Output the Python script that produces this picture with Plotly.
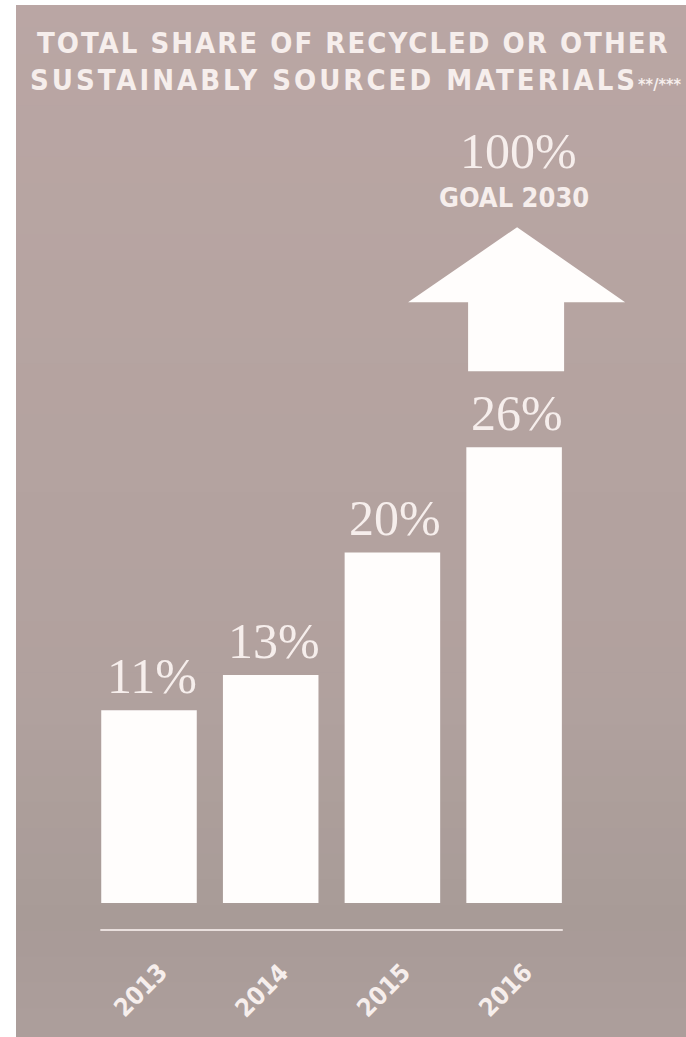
import plotly.graph_objects as go

# ---- data ----
years = ["2013", "2014", "2015", "2016"]
shares = [11, 13, 20, 26]
share_labels = ["11%", "13%", "20%", "26%"]
goal_label = "100%"
goal_text = "GOAL 2030"
title_line1 = "TOTAL SHARE OF RECYCLED OR OTHER"
title_line2 = "SUSTAINABLY SOURCED MATERIALS"
title_marks = "**/***"

# ---- geometry / style ----
W, H = 686, 1037
px_per_cat = 121.7
cat0_px = 149.0
px_per_unit = 17.53
base_px = 903.0
x0r = -cat0_px / px_per_cat
x1r = x0r + W / px_per_cat
y0r = -(H - base_px) / px_per_unit
y1r = y0r + H / px_per_unit

SANS = "DejaVu Sans Condensed, DejaVu Sans, sans-serif"
SERIF = "Liberation Serif, Times New Roman, serif"
TXT = "#f6eeec"

fig = go.Figure()

fig.add_trace(go.Bar(
    x=list(range(len(years))), y=shares, width=0.785,
    marker=dict(color="#fffdfc", line=dict(width=0)),
    hoverinfo="skip", showlegend=False,
))

shapes = []
# background panel with soft vertical gradient
stops = [(5, (186, 166, 164)), (300, (182, 164, 161)), (700, (177, 161, 158)),
         (930, (168, 155, 151)), (1037, (172, 158, 155))]
nb = 40
top, bot = 5, H
for i in range(nb):
    ya = top + (bot - top) * i / nb
    yb = top + (bot - top) * (i + 1) / nb
    ym = (ya + yb) / 2
    for (p0, c0), (p1, c1) in zip(stops[:-1], stops[1:]):
        if p0 <= ym <= p1:
            t = (ym - p0) / (p1 - p0)
            c = tuple(round(a + (b - a) * t) for a, b in zip(c0, c1))
            break
    y_top = ya if i == 0 else ya - 3
    shapes.append(dict(type="rect", xref="paper", yref="paper",
                       x0=16 / W, x1=1, y0=1 - yb / H, y1=1 - y_top / H,
                       fillcolor=f"rgb{c}", line=dict(width=0), layer="below"))

# baseline rule under the bars
shapes.append(dict(type="line", xref="x", yref="y", ysizemode="pixel", yanchor=0,
                   x0=-0.40, x1=len(years) - 1 + 0.40, y0=-27, y1=-27,
                   line=dict(color="#e9dfdd", width=2)))

# upward arrow above the last bar (pixel offsets relative to last bar top)
last = len(years) - 1
arrow = [(-46, 76), (50, 76), (50, 145), (111, 145), (3, 220), (-106, 145), (-46, 145)]
path = "M " + " L ".join(f"{x},{y}" for x, y in arrow) + " Z"
shapes.append(dict(type="path", xref="x", yref="y", xsizemode="pixel", ysizemode="pixel",
                   xanchor=last, yanchor=shares[-1], path=path,
                   fillcolor="#fffdfc", line=dict(width=0)))

annotations = []
for i, (v, lab) in enumerate(zip(shares, share_labels)):
    annotations.append(dict(x=i, y=v, xref="x", yref="y", text=lab, showarrow=False,
                            xanchor="center", yanchor="bottom", yshift=4, xshift=3,
                            font=dict(family=SERIF, size=50, color=TXT)))
for i, yr in enumerate(years):
    annotations.append(dict(x=i, y=0, xref="x", yref="y", text=f"<b>{yr}</b>", showarrow=False,
                            xanchor="center", yanchor="middle", yshift=-87, xshift=-9,
                            textangle=-45, font=dict(family=SANS, size=25, color=TXT)))
annotations.append(dict(x=last, y=shares[-1], xref="x", yref="y", text=goal_label, showarrow=False,
                        xanchor="center", yanchor="middle", yshift=447 - 151, xshift=4,
                        font=dict(family=SERIF, size=50, color=TXT)))
annotations.append(dict(x=last, y=shares[-1], xref="x", yref="y", text=f"<b>{goal_text}</b>",
                        showarrow=False, xanchor="center", yanchor="middle", yshift=447 - 197,
                        font=dict(family=SANS, size=27, color=TXT)))
annotations.append(dict(x=35 / W, y=1 - 43 / H, xref="paper", yref="paper", showarrow=False,
                        text=f'<span style="letter-spacing:2px"><b>{title_line1}</b></span>',
                        xanchor="left", yanchor="middle",
                        font=dict(family=SANS, size=29, color=TXT)))
annotations.append(dict(x=28 / W, y=1 - 80 / H, xref="paper", yref="paper", showarrow=False,
                        text=(f'<span style="letter-spacing:3px"><b>{title_line2}</b></span>'
                              f'<span style="font-size:16px"><b>{title_marks}</b></span>'),
                        xanchor="left", yanchor="middle",
                        font=dict(family=SANS, size=29, color=TXT)))

fig.update_layout(
    width=W, height=H, autosize=False,
    margin=dict(l=0, r=0, t=0, b=0),
    paper_bgcolor="white", plot_bgcolor="rgba(0,0,0,0)",
    xaxis=dict(range=[x0r, x1r], visible=False, fixedrange=True),
    yaxis=dict(range=[y0r, y1r], visible=False, fixedrange=True),
    shapes=shapes, annotations=annotations, bargap=0.2,
)

fig.write_html("out.html", config={"displayModeBar": False},
               post_script="document.body.style.margin='0px';document.body.style.overflow='hidden';")
